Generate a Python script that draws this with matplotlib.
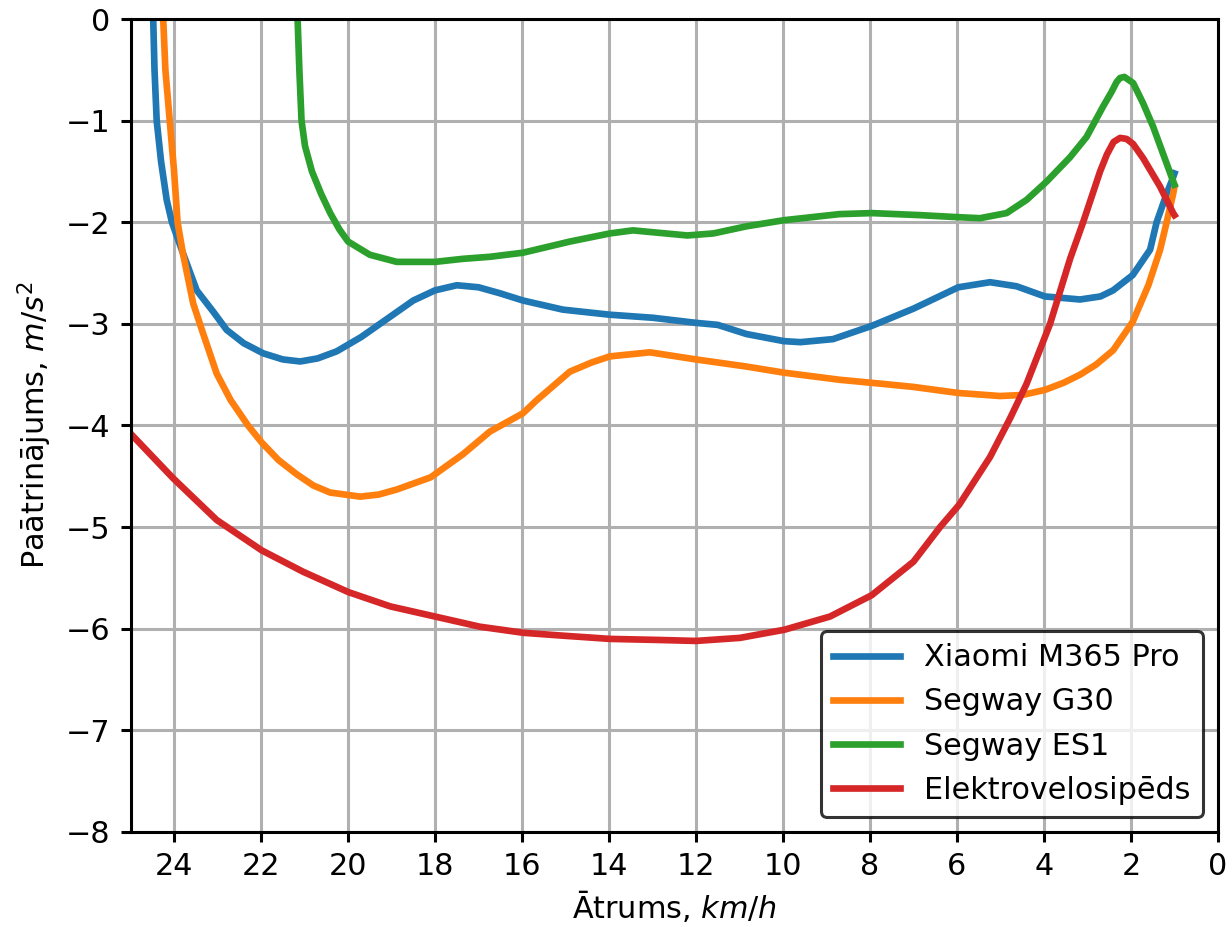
import matplotlib
matplotlib.use("Agg")
import matplotlib.pyplot as plt

# Speed (km/h) and deceleration (m/s^2)
xiaomi_v = [24.48, 24.45, 24.4, 24.3, 24.17, 24.05, 23.8, 23.48, 23.1, 22.79, 22.4, 21.95,
            21.5, 21.1, 20.7, 20.26, 19.7, 19.2, 18.5, 18.0, 17.5, 17.0, 16.5, 15.98, 15.06,
            13.98, 12.99, 12.0, 11.5, 10.84, 9.98, 9.6, 8.85, 7.96, 7.0, 5.97, 5.24, 4.63,
            3.98, 3.17, 2.7, 2.41, 1.96, 1.56, 1.41, 1.18, 1.05, 1.0]
xiaomi_a = [0.0, -0.5, -1.0, -1.4, -1.78, -2.0, -2.3, -2.67, -2.88, -3.06, -3.19, -3.29,
            -3.35, -3.37, -3.34, -3.27, -3.13, -2.98, -2.77, -2.67, -2.62, -2.64, -2.7, -2.77, -2.86,
            -2.91, -2.94, -2.99, -3.01, -3.1, -3.17, -3.18, -3.15, -3.02, -2.85, -2.64, -2.59, -2.63,
            -2.73, -2.76, -2.73, -2.67, -2.52, -2.27, -2.0, -1.72, -1.58, -1.52]

g30_v = [24.25, 24.2, 24.1, 24.0, 23.92, 23.8, 23.56, 23.36, 23.02, 22.7, 22.3, 21.98,
         21.6, 21.18, 20.8, 20.41, 19.72, 19.3, 18.88, 18.1, 17.35, 16.74, 15.98, 15.66,
         14.9, 14.4, 13.98, 13.06, 12.0, 10.84, 9.98, 8.7, 7.96, 7.01, 5.97, 5.01, 4.5,
         3.98, 3.55, 3.17, 2.8, 2.41, 1.96, 1.6, 1.33, 1.18, 1.03, 1.0]
g30_a = [0.0, -0.5, -1.0, -1.5, -2.0, -2.3, -2.8, -3.06, -3.49, -3.75, -4.0, -4.17,
         -4.34, -4.48, -4.59, -4.66, -4.70, -4.68, -4.63, -4.51, -4.28, -4.06, -3.88, -3.75,
         -3.47, -3.38, -3.32, -3.28, -3.35, -3.42, -3.48, -3.55, -3.58, -3.62, -3.68, -3.71, -3.70,
         -3.65, -3.58, -3.5, -3.4, -3.26, -2.98, -2.62, -2.27, -2.0, -1.72, -1.65]

es1_v = [21.16, 21.12, 21.07, 20.99, 20.83, 20.62, 20.41, 20.2, 20.0, 19.5, 18.88, 18.0,
         17.36, 16.74, 15.98, 14.9, 13.98, 13.45, 12.2, 11.6, 10.84, 9.98, 8.7, 7.96, 6.85,
         5.98, 5.47, 4.86, 4.4, 3.94, 3.4, 3.02, 2.64, 2.45, 2.33, 2.25, 2.15, 1.95, 1.72,
         1.49, 1.07, 1.0]
es1_a = [0.0, -0.5, -1.0, -1.25, -1.5, -1.72, -1.91, -2.07, -2.19, -2.32, -2.39, -2.39,
         -2.36, -2.34, -2.3, -2.19, -2.11, -2.08, -2.13, -2.11, -2.04, -1.98, -1.92, -1.91, -1.93,
         -1.95, -1.96, -1.91, -1.78, -1.6, -1.36, -1.16, -0.86, -0.72, -0.62, -0.58, -0.57, -0.63, -0.83,
         -1.06, -1.55, -1.63]

ebike_v = [25.0, 24.02, 23.02, 21.98, 21.03, 19.99, 19.03, 18.0, 16.97, 15.97, 15.0, 13.98,
           12.9, 12.0, 10.99, 9.97, 8.92, 7.96, 7.0, 6.39, 5.95, 5.24, 4.78, 4.4, 3.86,
           3.4, 3.1, 2.85, 2.71, 2.55, 2.4, 2.25, 2.1, 1.95, 1.72, 1.33, 1.03, 1.0]
ebike_a = [-4.08, -4.52, -4.93, -5.23, -5.44, -5.64, -5.78, -5.88, -5.98, -6.04, -6.07, -6.1,
           -6.11, -6.12, -6.09, -6.01, -5.88, -5.67, -5.34, -5.0, -4.78, -4.31, -3.93, -3.59, -3.0,
           -2.36, -2.0, -1.68, -1.5, -1.33, -1.21, -1.17, -1.18, -1.23, -1.37, -1.65, -1.91, -1.93]

labels = ["Xiaomi M365 Pro", "Segway G30", "Segway ES1", "Elektrovelosipēds"]

fs = 21.8

fig = plt.figure(figsize=(12.32, 9.27), dpi=100)
ax = fig.add_subplot(111)
fig.subplots_adjust(left=0.106, right=0.9886, top=0.9795, bottom=0.1025)

lw = 4.8
ax.plot(xiaomi_v, xiaomi_a, color="tab:blue", lw=lw, label=labels[0])
ax.plot(g30_v, g30_a, color="tab:orange", lw=lw, label=labels[1])
ax.plot(es1_v, es1_a, color="tab:green", lw=lw, label=labels[2])
ax.plot(ebike_v, ebike_a, color="tab:red", lw=lw, label=labels[3])

ax.set_xlim(25, 0)
ax.set_ylim(-8, 0)
ax.set_xticks(range(0, 25, 2))
ax.set_yticks(range(-8, 1))
ax.grid(True, color="#b0b0b0", lw=2.2)
ax.set_axisbelow(True)

for s in ax.spines.values():
    s.set_linewidth(2.2)
ax.tick_params(labelsize=fs, width=2.2, length=7.2, pad=7.5)

ax.set_xlabel("Ātrums, $km/h$", fontsize=fs, labelpad=5)
ax.set_ylabel("Paātrinājums, $m/s^2$", fontsize=fs, labelpad=8)

leg = ax.legend(loc="lower right", fontsize=fs, handlelength=2.2, edgecolor="black",
                fancybox=True)
leg.get_frame().set_linewidth(2.2)

fig.savefig("out.png", dpi=100)
